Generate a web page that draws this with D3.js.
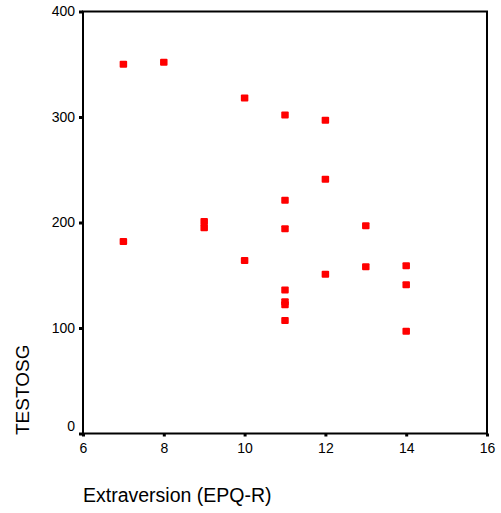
<!DOCTYPE html>
<html>
<head>
<meta charset="utf-8">
<script src="https://cdn.jsdelivr.net/npm/d3@7/dist/d3.min.js"></script>
<style>
  html, body { margin: 0; padding: 0; background: #fff; }
  text { font-family: "Liberation Sans", Arial, sans-serif; fill: #000; }
</style>
</head>
<body>
<svg id="chart" width="501" height="513"></svg>
<script>
const extraversion = [7, 8, 10, 11, 12, 12, 11, 13, 11, 9, 9, 7, 10, 12, 13, 14, 14, 11, 11, 11, 11, 14];
const testosg      = [350, 352, 318, 302, 297, 241, 221, 197, 194, 201, 195, 182, 164, 151, 158, 159, 141, 136, 125, 122, 107, 97];
const xTicks = [6, 8, 10, 12, 14, 16];
const yTicks = [0, 100, 200, 300, 400];
const xTitle = "Extraversion (EPQ-R)";
const yTitle = "TESTOSG";

const svg = d3.select("#chart");
const plotLeft = 83, plotRight = 487, plotTop = 11.5, plotBottom = 433.5;

const x = d3.scaleLinear().domain([6, 16]).range([plotLeft, plotRight]);
const y = d3.scaleLinear().domain([0, 400]).range([plotBottom, plotTop]);

// frame
svg.append("rect")
  .attr("x", plotLeft).attr("y", plotTop)
  .attr("width", plotRight - plotLeft).attr("height", plotBottom - plotTop)
  .attr("fill", "none").attr("stroke", "#000").attr("stroke-width", 2);

// x axis ticks & labels
const xAxis = d3.axisBottom(x).tickValues(xTicks).tickSize(3).tickPadding(7).tickFormat(d3.format("d"));
const gx = svg.append("g").attr("transform", `translate(0,${plotBottom})`).call(xAxis);
gx.select(".domain").remove();
gx.selectAll(".tick line").attr("stroke", "#000").attr("stroke-width", 3);
gx.selectAll(".tick text").style("font-size", "14px").attr("font-family", "Liberation Sans, Arial, sans-serif");

// y axis ticks & labels
const yAxis = d3.axisLeft(y).tickValues(yTicks).tickSize(4).tickPadding(4).tickFormat(d3.format("d"));
const gy = svg.append("g").attr("transform", `translate(${plotLeft},0)`).call(yAxis);
gy.select(".domain").remove();
gy.selectAll(".tick line").attr("stroke", "#000").attr("stroke-width", 3);
gy.selectAll(".tick text").style("font-size", "14px").attr("font-family", "Liberation Sans, Arial, sans-serif");
gy.selectAll(".tick text").filter(d => d === 0).attr("dy", "-0.25em");

// points
const pts = extraversion.map((v, i) => ({ x: v, y: testosg[i] }));
const mw = 7.5, mh = 7;
svg.append("g").selectAll("rect").data(pts).join("rect")
  .attr("x", d => x(d.x) - mw / 2)
  .attr("y", d => y(d.y) - mh / 2)
  .attr("width", mw).attr("height", mh)
  .attr("rx", 1)
  .attr("fill", "#ff0000");

// titles
svg.append("text").attr("x", 83).attr("y", 502)
  .style("font-size", "19.5px").text(xTitle);
svg.append("text")
  .attr("transform", "translate(29,435) rotate(-90)")
  .style("font-size", "19px").text(yTitle);
</script>
</body>
</html>
